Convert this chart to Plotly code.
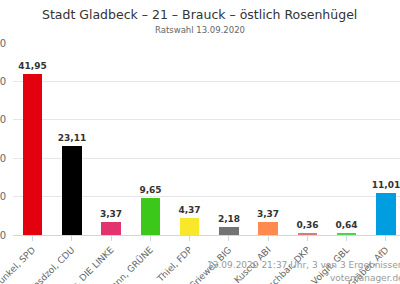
import plotly.graph_objects as go

categories = ["Dunkel, SPD", "Drosdzol, CDU", "Jerome, DIE LINKE", "Riedlmann, GRÜNE",
              "Thiel, FDP", "Griewel, BIG", "Kuscu, ABI", "Kretzschbar, DKP",
              "Voigit, GBL", "Gräber, AfD"]
values = [41.95, 23.11, 3.37, 9.65, 4.37, 2.18, 3.37, 0.36, 0.64, 11.01]
colors = ["#e3000f", "#000000", "#e2336c", "#3cc81b", "#f8e72a", "#737373",
          "#ff8a4f", "#d9797b", "#4fd444", "#009ee0"]
y_ticks = [0, 10, 20, 30, 40, 50]

FONT = "DejaVu Sans"
labels = [f"{v:.2f}".replace(".", ",") for v in values]

fig = go.Figure(go.Bar(
    x=list(range(len(categories))), y=values, marker_color=colors, marker_line_width=0,
    width=0.5, text=labels, textposition="outside", cliponaxis=False,
    constraintext="none", textangle=0,
    textfont=dict(family=FONT, size=9, color="#333333"),
))
fig.update_traces(texttemplate="<b>%{text}</b>")

fig.update_layout(
    width=400, height=284,
    margin=dict(l=13, r=0, t=43, b=49, autoexpand=False),
    paper_bgcolor="white", plot_bgcolor="white",
    showlegend=False,
    font=dict(family=FONT),
    bargap=0,
)
fig.update_xaxes(
    range=[-0.5, 9.36], tickmode="array", tickvals=list(range(len(categories))),
    ticktext=categories, tickangle=-45, tickson="boundaries",
    ticks="outside", ticklen=5, tickcolor="#ccd6eb",
    showline=True, linecolor="#ccd6eb", linewidth=1,
    tickfont=dict(family=FONT, size=9, color="#666666"),
    showgrid=False, zeroline=False, automargin=False, ticklabeloverflow="allow",
)
fig.update_yaxes(
    range=[0, 50], tickvals=y_ticks, showgrid=True, gridcolor="#e6e6e6",
    zeroline=False, tickfont=dict(family=FONT, size=10, color="#666666"),
    ticklabelstandoff=6, automargin=False, ticklabeloverflow="allow",
)
fig.add_annotation(text="Stadt Gladbeck – 21 – Brauck – östlich Rosenhügel",
                   xref="paper", yref="paper", x=0.483, y=1, yshift=29, yanchor="middle",
                   showarrow=False, font=dict(family=FONT, size=12.5, color="#333333"))
fig.add_annotation(text="Ratswahl 13.09.2020",
                   xref="paper", yref="paper", x=0.483, y=1, yshift=13, yanchor="middle",
                   showarrow=False, font=dict(family=FONT, size=8.5, color="#666666"))
fig.add_annotation(text="13.09.2020 21:37 Uhr, 3 von 3 Ergebnissen",
                   xref="paper", yref="paper", x=1, xshift=6, y=0, yshift=-30,
                   xanchor="right", yanchor="middle", showarrow=False,
                   font=dict(family=FONT, size=9, color="#999999"))
fig.add_annotation(text="votemanager.de",
                   xref="paper", yref="paper", x=1, xshift=6, y=0, yshift=-43,
                   xanchor="right", yanchor="middle", showarrow=False,
                   font=dict(family=FONT, size=9, color="#999999"))

fig.write_html("out.html")
